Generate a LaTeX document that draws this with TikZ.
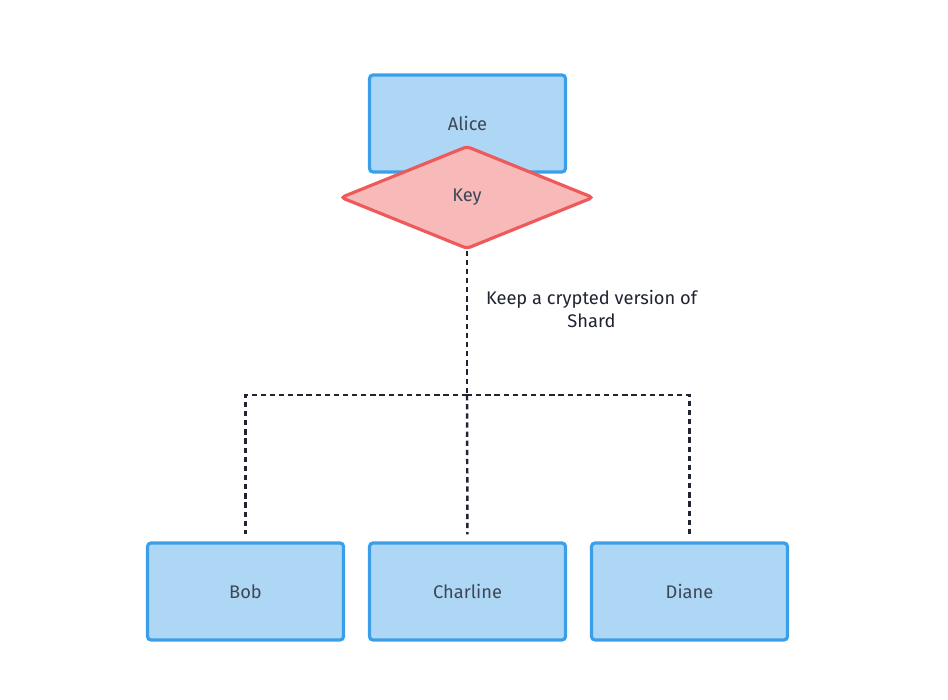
\documentclass[tikz,border=0pt]{standalone}
\usepackage{fontspec}
\setmainfont{Fira Sans}
\usetikzlibrary{shapes.geometric}
\definecolor{ink}{HTML}{1F2430}
\definecolor{boxtext}{HTML}{3D4756}
\definecolor{blueEdge}{HTML}{3A9FE8}
\definecolor{blueSoft}{HTML}{AED6F5}
\definecolor{redEdge}{HTML}{EE5A5C}
\definecolor{redSoft}{HTML}{F8B9B9}

\begin{document}
\begin{tikzpicture}[
    font=\fontsize{10.4}{13.6}\selectfont,
    person/.style={
        draw=blueEdge,
        fill=blueSoft,
        line width=1.8pt,
        rounded corners=2pt,
        minimum width=3.92cm,
        minimum height=1.94cm,
        text=boxtext
    },
    keyshape/.style={
        diamond,
        draw=redEdge,
        fill=redSoft,
        line width=1.8pt,
        rounded corners=2pt,
        aspect=2.5,
        minimum width=5.06cm,
        minimum height=2.06cm,
        inner sep=0pt,
        text=boxtext
    },
    share/.style={draw=ink, line width=1.4pt, dash pattern=on 3pt off 2.2pt, shorten >=4pt},
    note/.style={text=ink, align=center}
]

\useasboundingbox (0,0) rectangle (18.96,14);

% Top: owner and key
\node[person] (alice) at (9.35,11.53) {Alice};
\node[keyshape] (key) at (9.34,10.05) {Key};

% Bottom: holders of the shards
\node[person] (bob) at (4.91,2.17) {Bob};
\node[person] (charline) at (9.35,2.17) {Charline};
\node[person] (diane) at (13.79,2.17) {Diane};

\coordinate (split) at (9.34,6.1);

\draw[share, shorten >=0pt] (key.south) -- (split);
\draw[share] (split) -| (bob.north);
\draw[share] (split) -| (diane.north);
\draw[share] (split) -- (charline.north);

\node[note] (keepnote) at (11.83,7.82) {Keep a crypted version of\\Shard};

\end{tikzpicture}
\end{document}
